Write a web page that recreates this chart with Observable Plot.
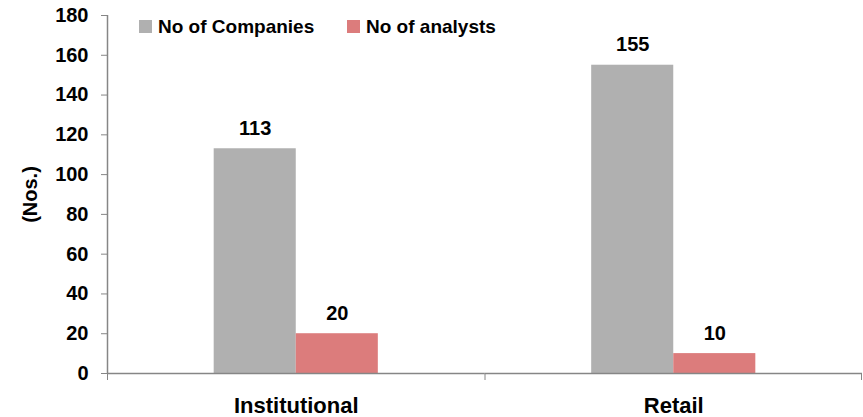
<!DOCTYPE html>
<html><head><meta charset="utf-8">
<script src="https://cdn.jsdelivr.net/npm/d3@7"></script>
<script src="https://cdn.jsdelivr.net/npm/@observablehq/plot@0.6"></script>
<style>
body{margin:0;background:#fff;font-family:"Liberation Sans",Arial,sans-serif;}
#wrap{position:relative;width:863px;height:417px;}
#wrap svg{display:block;}
.lg{position:absolute;top:17px;display:flex;align-items:center;font-weight:bold;font-size:19px;line-height:19px;color:#000;white-space:nowrap;}
.lg span.sw{display:inline-block;width:13px;height:13px;margin-right:6px;}
</style></head><body><div id="wrap"></div>
<script>
const categories = ["Institutional", "Retail"];
const series = ["No of Companies", "No of analysts"];
const companies = [113, 155];
const analysts = [20, 10];
const yTicks = [0, 20, 40, 60, 80, 100, 120, 140, 160, 180];
const colors = ["#B0B0B0", "#DC7C7C"];
const legendLeft = [139, 347];

const data = categories.flatMap((c, i) => [
  {category: c, series: series[0], value: companies[i]},
  {category: c, series: series[1], value: analysts[i]}
]);

const W = 863, H = 417, mL = 107, mR = 1, mT = 15, mB = 44;
const half = (W - mL - mR) / categories.length / 2;
const axisColor = "#868686";

const chart = Plot.plot({
  width: W, height: H,
  marginLeft: mL, marginRight: mR, marginTop: mT, marginBottom: mB,
  style: {fontFamily: '"Liberation Sans", Arial, sans-serif', fontWeight: "bold", background: "#fff", color: "#000"},
  fx: {domain: categories, padding: 0, axis: null, label: null, round: false},
  x: {domain: series, paddingInner: 0, paddingOuter: 1.3, axis: null, round: false},
  y: {domain: [0, 180]},
  color: {domain: series, range: colors},
  marks: [
    Plot.barY(data, {fx: "category", x: "series", y: "value", fill: "series"}),
    Plot.text(data, {fx: "category", x: "series", y: "value", text: d => String(d.value), lineAnchor: "bottom", dy: -14, fontSize: 20, fontWeight: "bold", fill: "#000"}),
    Plot.axisY({ticks: yTicks, tickSize: 6, tickPadding: 13, fontSize: 20, stroke: axisColor, fill: "#000",
      label: "(Nos.)", labelAnchor: "center", labelArrow: "none", labelOffset: 85}),
    Plot.axisFx({anchor: "bottom", tickSize: 0, tickPadding: 24, fontSize: 22, label: null, fill: "#000"}),
    Plot.ruleY([0], {stroke: axisColor, strokeWidth: 1.5}),
    Plot.ruleX([categories[0]], {fx: d => d, x: null, y1: 0, y2: 180, dx: -half, stroke: axisColor, strokeWidth: 1.5}),
    Plot.ruleX(categories, {fx: d => d, x: null, y1: 0, y2: 0, insetBottom: -7, dx: -half, stroke: axisColor}),
    Plot.ruleX([categories[categories.length - 1]], {fx: d => d, x: null, y1: 0, y2: 0, insetBottom: -7, dx: half - 1, stroke: axisColor})
  ]
});
const wrap = document.getElementById("wrap");
wrap.appendChild(chart);
series.forEach((s, i) => {
  const d = document.createElement("div");
  d.className = "lg";
  d.style.left = legendLeft[i] + "px";
  const sw = document.createElement("span");
  sw.className = "sw";
  sw.style.background = colors[i];
  d.appendChild(sw);
  d.appendChild(document.createTextNode(s));
  wrap.appendChild(d);
});
</script>
</body></html>
